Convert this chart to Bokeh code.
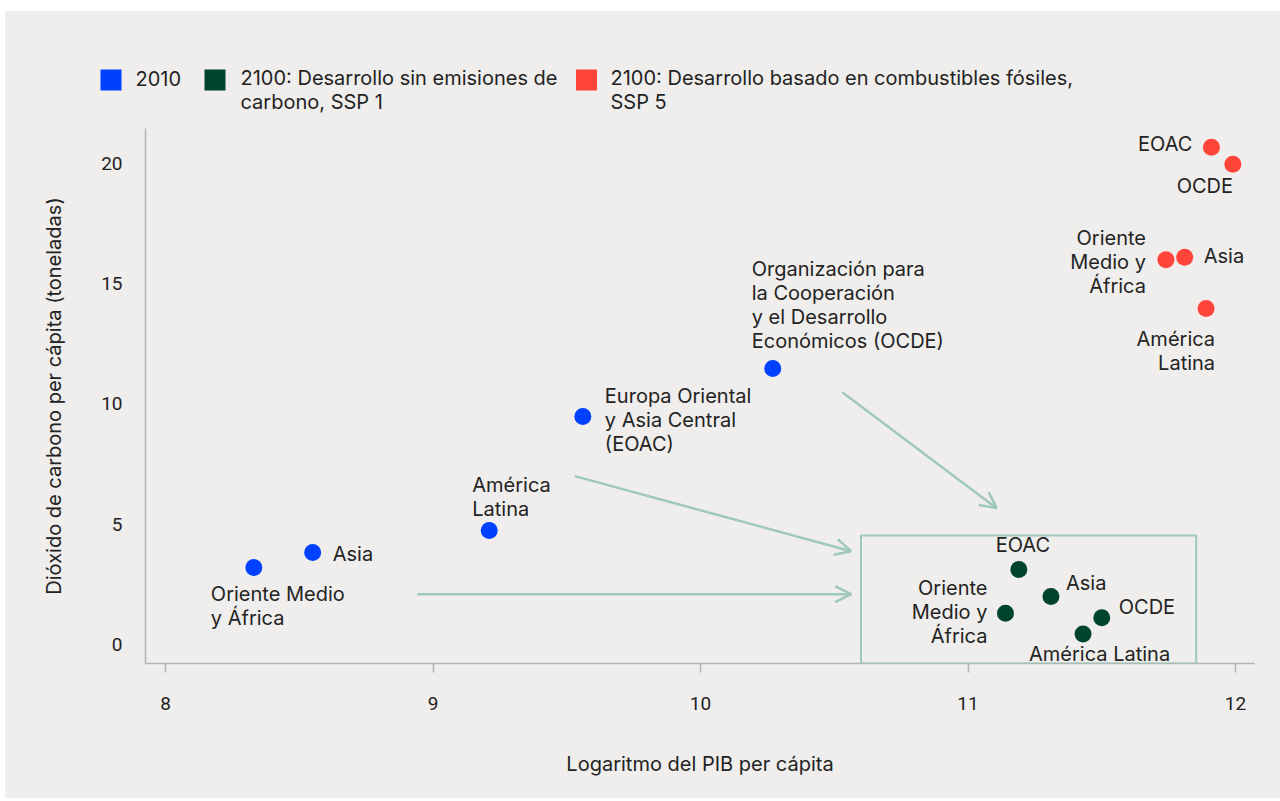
from bokeh.plotting import figure
from bokeh.models import Range1d, Arrow, OpenHead, BoxAnnotation, FixedTicker
from bokeh.layouts import column, row
from bokeh.core.properties import value
from bokeh.embed import file_html
from bokeh.resources import INLINE

# ---------------- data ----------------
regions = ["Oriente Medio y África", "Asia", "América Latina", "EOAC", "OCDE"]

x_2010 = [8.33, 8.55, 9.21, 9.56, 10.27]
y_2010 = [3.20, 3.83, 4.74, 9.48, 11.48]

x_ssp1 = [11.14, 11.31, 11.43, 11.19, 11.50]
y_ssp1 = [1.30, 2.00, 0.44, 3.12, 1.11]

x_ssp5 = [11.74, 11.81, 11.89, 11.91, 11.99]
y_ssp5 = [16.0, 16.1, 13.97, 20.68, 19.97]

labels_2010 = ["Oriente Medio\ny África", "Asia", "América\nLatina",
               "Europa Oriental\ny Asia Central\n(EOAC)",
               "Organización para\nla Cooperación\ny el Desarrollo\nEconómicos (OCDE)"]
labels_ssp1 = ["Oriente\nMedio y\nÁfrica", "Asia", "América Latina", "EOAC", "OCDE"]
labels_ssp5 = ["Oriente\nMedio y\nÁfrica", "Asia", "América\nLatina", "EOAC", "OCDE"]

series_names = ["2010",
                "2100: Desarrollo sin emisiones de\ncarbono, SSP 1",
                "2100: Desarrollo basado en combustibles fósiles,\nSSP 5"]
series_colors = ["#0040ff", "#004430", "#ff4539"]

x_ticks = [8, 9, 10, 11, 12]
y_ticks = [0, 5, 10, 15, 20]

x_title = "Logaritmo del PIB per cápita"
y_title = "Dióxido de carbono per cápita (toneladas)"

# arrows (start x, start y, end x, end y) in data units
arrows = [(8.941, 2.09, 10.563, 2.09),
          (9.530, 7.00, 10.563, 3.88),
          (10.530, 10.49, 11.107, 5.67)]
# highlight box around the 2100 SSP1 group
box_left, box_right, box_top = 10.60, 11.853, 4.53

# ---------------- style ----------------
BG = "#efeeec"
TEXT = "#232323"
TEAL = "#9fc8bc"
AXIS = "#b3b3b3"
FONT = "Inter"
TICKFONT = "Roboto"
LH = 1.0

# label placement (pixel offsets from the point, alignment)
place_2010 = [(-43, 14, "left"), (20, -10, "left"), (-17, -58, "left"),
              (22, -33, "left"), (-21, -111, "left")]
place_ssp1 = [(-18, -37, "right"), (15, -25, "left"), (-54, 8, "left"),
              (4, -36, "center"), (17, -23, "left")]
place_ssp5 = [(-20, -34, "right"), (19, -13, "left"), (9, 18, "right"),
              (-19, -15, "right"), (-28, 10, "center")]

W = 1275
BL, BR = 140, 26          # left / right borders (frame spans page x 145..1254)

# ---------------- legend figure (data units = page pixels) ----------------
leg = figure(width=W, height=117, x_range=Range1d(5, 1280), y_range=Range1d(128, 11),
             output_backend="svg", toolbar_location=None, min_border=0,
             x_axis_location=None, y_axis_location=None)
leg.grid.visible = False
leg.outline_line_color = None
leg.background_fill_color = BG
leg.border_fill_color = BG

sq_x = [110.5, 214.5, 586]
tx_x = [135, 240, 610]
tx_y = [70, 65.5, 65.5]
leg.scatter(sq_x, [79.5] * 3, marker="square", size=21, color=series_colors, line_color=None)
leg.text(tx_x, tx_y, text=series_names, text_font=value(FONT), text_font_size="20px",
         text_color=TEXT, text_baseline="top", text_align="left", text_line_height=LH)

# ---------------- main figure ----------------
p = figure(width=W, height=670, x_range=Range1d(7.925, 12.071), y_range=Range1d(-0.79, 21.455),
           output_backend="svg", toolbar_location=None,
           min_border_left=BL, min_border_right=BR, min_border_top=0, min_border_bottom=135)
p.grid.visible = False
p.outline_line_color = None
p.background_fill_color = BG
p.border_fill_color = BG

p.xaxis.ticker = FixedTicker(ticks=x_ticks)
p.yaxis.ticker = FixedTicker(ticks=y_ticks)
for ax in (p.xaxis, p.yaxis):
    ax.axis_line_color = AXIS
    ax.axis_line_width = 1.5
    ax.minor_tick_line_color = None
    ax.major_label_text_font = TICKFONT
    ax.major_label_text_font_size = "19px"
    ax.major_label_text_color = TEXT
    ax.axis_label_text_font = FONT
    ax.axis_label_text_font_size = "20px"
    ax.axis_label_text_font_style = "normal"
    ax.axis_label_text_color = TEXT
p.xaxis.major_tick_line_color = AXIS
p.xaxis.major_tick_line_width = 1.5
p.xaxis.major_tick_out = 9
p.xaxis.major_tick_in = 0
p.xaxis.major_label_standoff = 24
p.xaxis.axis_label = x_title
p.xaxis.axis_label_standoff = 39
p.yaxis.major_tick_line_color = None
p.yaxis.major_tick_out = 0
p.yaxis.major_tick_in = 0
p.yaxis.major_label_standoff = 23
p.yaxis.axis_label = y_title
p.yaxis.axis_label_standoff = 32

p.add_layout(BoxAnnotation(left=box_left, right=box_right, top=box_top,
                           fill_alpha=0, line_color=TEAL, line_alpha=1, line_width=2))
for (x0, y0, x1, y1) in arrows:
    p.add_layout(Arrow(end=OpenHead(size=16, line_color=TEAL, line_width=2.5),
                       x_start=x0, y_start=y0, x_end=x1, y_end=y1,
                       line_color=TEAL, line_width=2.5))

for xs, ys, col in ((x_2010, y_2010, series_colors[0]),
                    (x_ssp1, y_ssp1, series_colors[1]),
                    (x_ssp5, y_ssp5, series_colors[2])):
    p.scatter(xs, ys, size=17, color=col, line_color=None)

for xs, ys, labs, places in ((x_2010, y_2010, labels_2010, place_2010),
                             (x_ssp1, y_ssp1, labels_ssp1, place_ssp1),
                             (x_ssp5, y_ssp5, labels_ssp5, place_ssp5)):
    for x, y, lab, (dx, dy, al) in zip(xs, ys, labs, places):
        p.text([x], [y], text=[lab], x_offset=dx, y_offset=dy, text_align=al,
               text_baseline="top", text_font=value(FONT), text_font_size="20px",
               text_color=TEXT, text_line_height=LH)

layout = column(row(leg, spacing=0), p, spacing=0, margin=(11, 0, 0, 5),
                styles={"background-color": BG})
open("out.html", "w").write(file_html(layout, INLINE))
